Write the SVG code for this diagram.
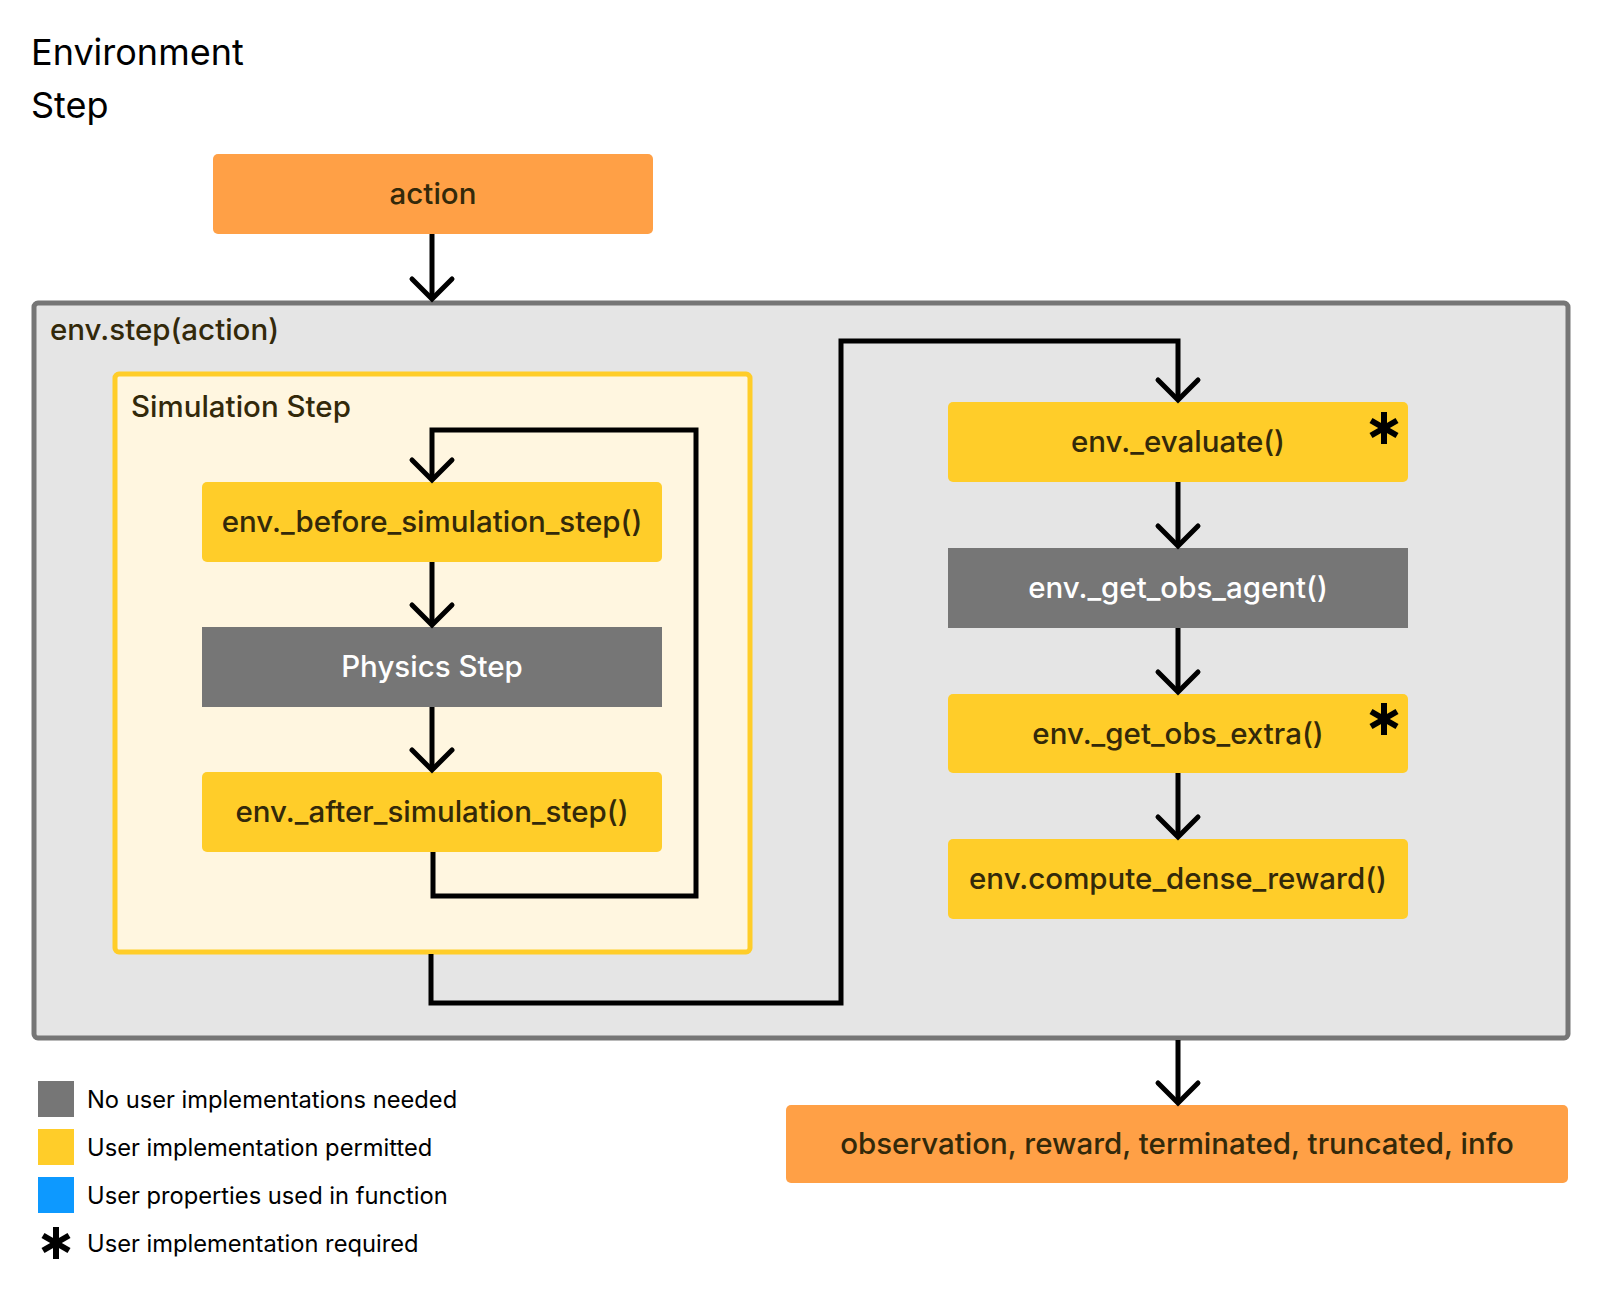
<svg xmlns="http://www.w3.org/2000/svg" width="1600" height="1300" viewBox="0 0 1600 1300">
<defs>
<style>
.t{font-family:Inter,"Noto Sans","Liberation Sans",sans-serif;}
.title{font-size:36px;fill:#000;}
.lbl{font-size:29.5px;font-weight:500;fill:#33290a;}
.nl{font-size:29.5px;font-weight:500;fill:#33290a;text-anchor:middle;}
.wl{font-size:29.5px;font-weight:500;fill:#ffffff;text-anchor:middle;}
.leg{font-size:23.7px;fill:#000;}
.yel{fill:#ffcd29;}
.gry{fill:#767676;}
.org{fill:#ffa046;}
.con{fill:none;stroke:#000;stroke-width:5;stroke-linejoin:miter;}
.hd{fill:none;stroke:#000;stroke-width:5;stroke-linecap:round;stroke-linejoin:miter;}
.ast{stroke:#000;stroke-width:6;stroke-linecap:butt;}
</style>
<g id="asterisk">
<line class="ast" x1="0" y1="-16" x2="0" y2="16"/>
<line class="ast" x1="-13" y1="-7.5" x2="13" y2="7.5"/>
<line class="ast" x1="-13" y1="7.5" x2="13" y2="-7.5"/>
</g>
<path id="chev" class="hd" d="M-20,-20 L0,0 L20,-20"/>
</defs>
<rect width="1600" height="1300" fill="#ffffff"/>

<g id="title">
<text class="t title" x="31" y="65">Environment</text>
<text class="t title" x="31" y="118">Step</text>
</g>

<g id="action">
<rect class="org" x="213" y="154" width="440" height="80" rx="5"/>
<text class="t nl" x="433" y="204">action</text>
</g>

<g id="env-step">
<rect x="34" y="303" width="1534" height="735" rx="4" fill="#e5e5e5" stroke="#767676" stroke-width="5"/>
<text class="t lbl" x="50" y="340">env.step(action)</text>
</g>

<g id="simulation-step">
<rect x="115" y="374" width="635" height="578" rx="4" fill="#fff6e0" stroke="#ffcd29" stroke-width="5"/>
<text class="t lbl" x="131" y="417">Simulation Step</text>
</g>

<g id="before-sim">
<rect class="yel" x="202" y="482" width="460" height="80" rx="5"/>
<text class="t nl" x="432" y="532">env._before_simulation_step()</text>
</g>
<g id="physics">
<rect class="gry" x="202" y="627" width="460" height="80"/>
<text class="t wl" x="432" y="677">Physics Step</text>
</g>
<g id="after-sim">
<rect class="yel" x="202" y="772" width="460" height="80" rx="5"/>
<text class="t nl" x="432" y="822">env._after_simulation_step()</text>
</g>

<g id="evaluate">
<rect class="yel" x="948" y="402" width="460" height="80" rx="5"/>
<text class="t nl" x="1178" y="452">env._evaluate()</text>
<use href="#asterisk" x="1384" y="428"/>
</g>
<g id="get-obs-agent">
<rect class="gry" x="948" y="548" width="460" height="80"/>
<text class="t wl" x="1178" y="598">env._get_obs_agent()</text>
</g>
<g id="get-obs-extra">
<rect class="yel" x="948" y="694" width="460" height="79" rx="5"/>
<text class="t nl" x="1178" y="744">env._get_obs_extra()</text>
<use href="#asterisk" x="1384" y="719"/>
</g>
<g id="compute-reward">
<rect class="yel" x="948" y="839" width="460" height="80" rx="5"/>
<text class="t nl" x="1178" y="889">env.compute_dense_reward()</text>
</g>

<g id="output">
<rect class="org" x="786" y="1105" width="782" height="78" rx="5"/>
<text class="t nl" x="1177" y="1154">observation, reward, terminated, truncated, info</text>
</g>

<g id="connectors">
<path class="con" d="M432,234 V299"/>
<use href="#chev" x="432" y="299"/>
<path class="con" d="M433,852 V896 H696 V430 H432 V480"/>
<use href="#chev" x="432" y="480"/>
<path class="con" d="M432,562 V625"/>
<use href="#chev" x="432" y="625"/>
<path class="con" d="M432,707 V770"/>
<use href="#chev" x="432" y="770"/>
<path class="con" d="M431,954 V1003 H841 V341 H1178 V400"/>
<use href="#chev" x="1178" y="400"/>
<path class="con" d="M1178,482 V546"/>
<use href="#chev" x="1178" y="546"/>
<path class="con" d="M1178,628 V692"/>
<use href="#chev" x="1178" y="692"/>
<path class="con" d="M1178,773 V837"/>
<use href="#chev" x="1178" y="837"/>
<path class="con" d="M1178,1040 V1103"/>
<use href="#chev" x="1178" y="1103"/>
</g>

<g id="legend">
<rect class="gry" x="38" y="1081" width="36" height="36"/>
<text class="t leg" x="87" y="1108">No user implementations needed</text>
<rect class="yel" x="38" y="1129" width="36" height="36"/>
<text class="t leg" x="87" y="1156">User implementation permitted</text>
<rect x="38" y="1177" width="36" height="36" fill="#0d99ff"/>
<text class="t leg" x="87" y="1204">User properties used in function</text>
<use href="#asterisk" x="56" y="1243"/>
<text class="t leg" x="87" y="1252">User implementation required</text>
</g>
</svg>
